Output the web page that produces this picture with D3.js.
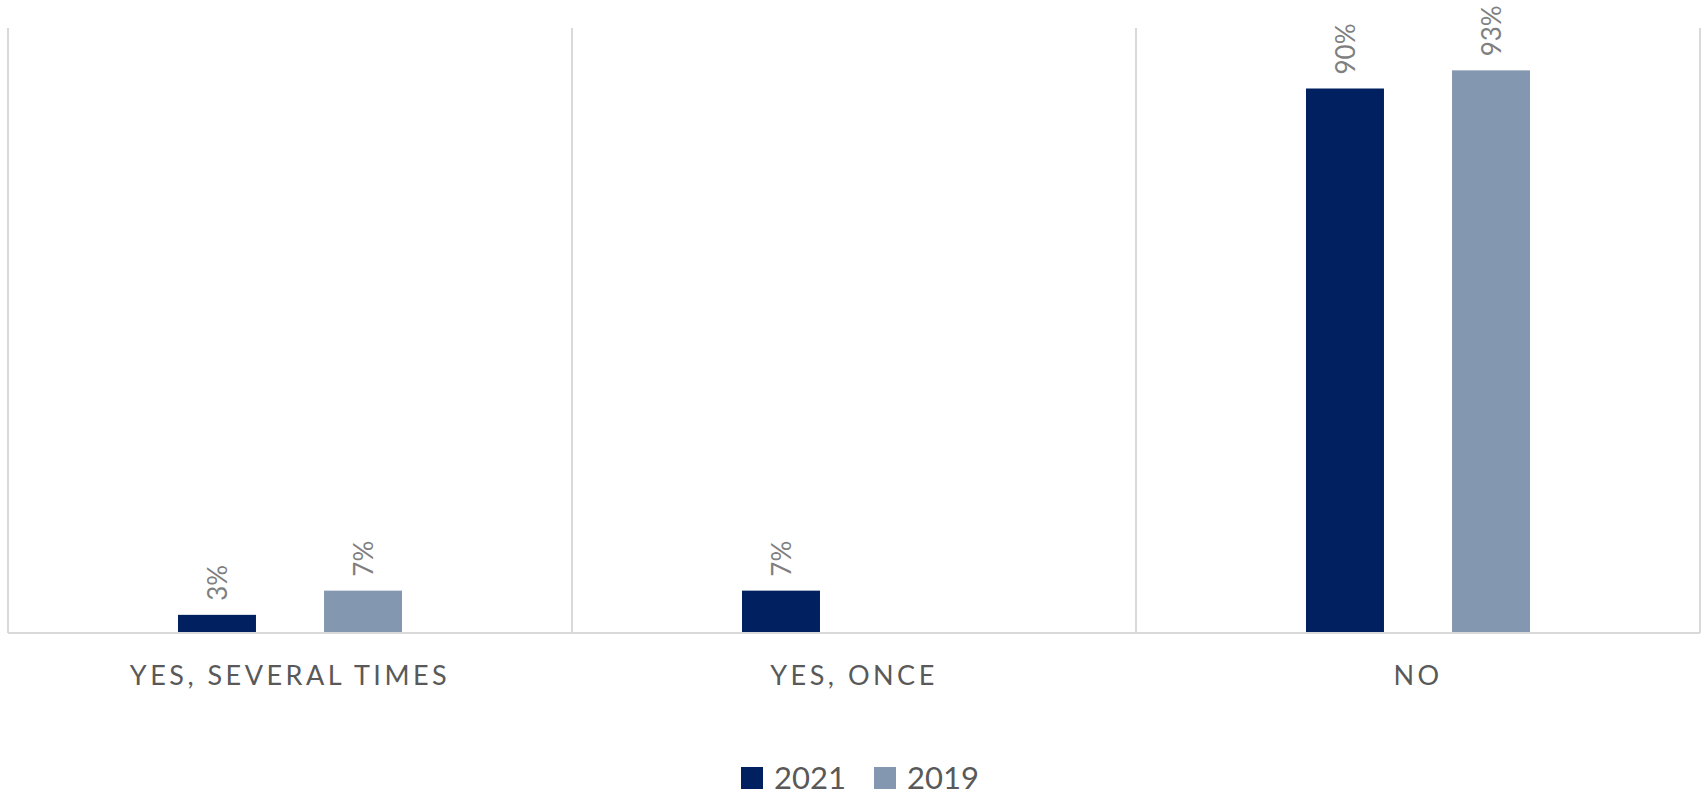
<!DOCTYPE html>
<html>
<head>
<meta charset="utf-8">
<script src="https://cdn.jsdelivr.net/npm/d3@7"></script>
<style>
  html, body { margin: 0; padding: 0; background: #fff; }
  svg { display: block; font-family: Lato, "Open Sans", sans-serif; }
</style>
</head>
<body>
<svg id="chart" width="1702" height="795"></svg>
<script>
// Survey answers, share of respondents (%)
const categories = ["YES, SEVERAL TIMES", "YES, ONCE", "NO"];
const seriesNames = ["2021", "2019"];
const values2021 = [3, 7, 90];
const values2019 = [7, null, 93];
const seriesColors = ["#002060", "#8497B0"];

const W = 1702, H = 795;
const margin = { left: 8, right: 2, top: 28, bottom: 162 };
const plotW = W - margin.left - margin.right;
const plotH = H - margin.top - margin.bottom;

const svg = d3.select("#chart");
const g = svg.append("g").attr("transform", `translate(${margin.left},${margin.top})`);

const x0 = d3.scaleBand().domain(categories).range([0, plotW]).padding(0);
const groupInset = 170;
const x1 = d3.scaleBand().domain(seriesNames)
  .range([groupInset, x0.bandwidth() - groupInset]).paddingInner(0.466).paddingOuter(0);
const y = d3.scaleLinear().domain([0, 100]).range([plotH, 0]);

// Vertical separators between categories
const bounds = categories.map(c => x0(c)).concat([plotW]);
g.selectAll("line.sep").data(bounds).join("line")
  .attr("class", "sep")
  .attr("x1", d => d).attr("x2", d => d)
  .attr("y1", y(100)).attr("y2", y(0))
  .attr("stroke", "#d9d9d9").attr("stroke-width", 2);

// Bars
const rows = categories.map((c, i) => ({
  cat: c,
  vals: [
    { s: seriesNames[0], v: values2021[i] },
    { s: seriesNames[1], v: values2019[i] }
  ].filter(d => d.v != null)
}));

const groups = g.selectAll("g.grp").data(rows).join("g")
  .attr("class", "grp")
  .attr("transform", d => `translate(${x0(d.cat)},0)`);

groups.selectAll("rect").data(d => d.vals).join("rect")
  .attr("x", d => x1(d.s))
  .attr("width", x1.bandwidth())
  .attr("y", d => y(d.v))
  .attr("height", d => y(0) - y(d.v))
  .attr("fill", d => seriesColors[seriesNames.indexOf(d.s)]);

// Rotated value labels
groups.selectAll("text.val").data(d => d.vals).join("text")
  .attr("class", "val")
  .attr("transform", d => `translate(${x1(d.s) + x1.bandwidth() / 2},${y(d.v) - 14}) rotate(-90)`)
  .attr("dominant-baseline", "central")
  .attr("text-anchor", "start")
  .attr("fill", "#7f7f7f")
  .attr("font-size", 26)
  .text(d => d.v + "%");

// Baseline
g.append("line")
  .attr("x1", 0).attr("x2", plotW)
  .attr("y1", y(0)).attr("y2", y(0))
  .attr("stroke", "#d9d9d9").attr("stroke-width", 2);

// Category axis
const xAxis = g.append("g")
  .attr("transform", `translate(0,${y(0)})`)
  .call(d3.axisBottom(x0).tickSize(0).tickPadding(0));
xAxis.select(".domain").remove();
xAxis.selectAll("text")
  .attr("y", 52)
  .attr("dy", 0)
  .attr("fill", "#595959")
  .attr("font-size", 27)
  .attr("font-family", "Lato, sans-serif")
  .attr("letter-spacing", "3.5px");

// Legend
const legend = svg.append("g").attr("transform", "translate(741,767)");
const legendX = [0, 133];
seriesNames.forEach((s, i) => {
  const item = legend.append("g").attr("transform", `translate(${legendX[i]},0)`);
  item.append("rect").attr("width", 22).attr("height", 22).attr("fill", seriesColors[i]);
  item.append("text")
    .attr("x", 33).attr("y", 22)
    .attr("fill", "#595959")
    .attr("font-size", 31)
    .text(s);
});
</script>
</body>
</html>
